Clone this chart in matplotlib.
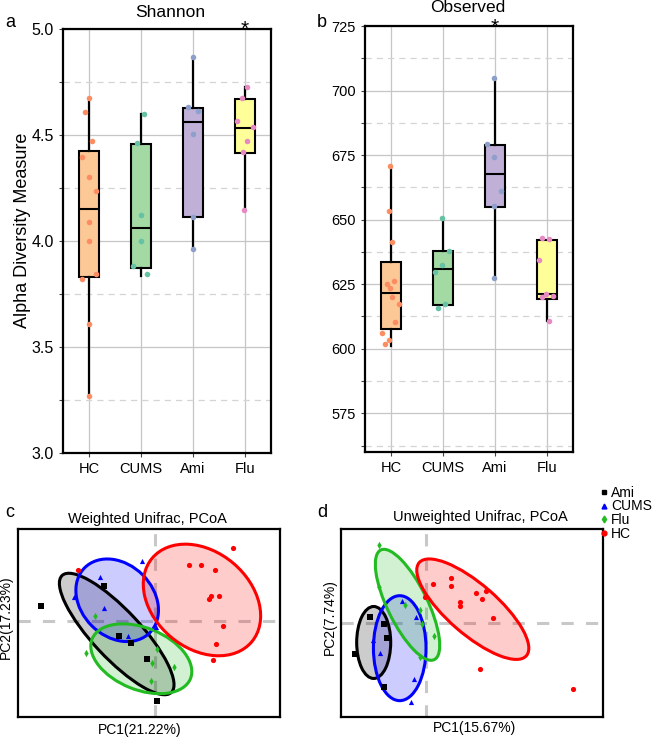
import matplotlib.pyplot as plt
from matplotlib.patches import Ellipse
from matplotlib.lines import Line2D
from matplotlib.ticker import MultipleLocator

plt.rcParams["font.family"] = ["Liberation Sans", "DejaVu Sans"]

# ---------------- data ----------------
groups = ["HC", "CUMS", "Ami", "Flu"]
box_fill = ["#fcc896", "#a3d9a3", "#c0b0d8", "#ffff99"]
point_col = ["#fc8d62", "#66c2a5", "#8da0cb", "#e78ac3"]

# Shannon index per sample, with horizontal jitter used in the original
shannon_hc = [4.673, 4.607, 4.472, 4.395, 4.302, 4.235, 4.090, 3.998, 3.845, 3.820, 3.608, 3.269]
shannon_cums = [4.598, 4.461, 4.123, 3.998, 3.880, 3.844]
shannon_ami = [4.870, 4.631, 4.615, 4.505, 4.115, 3.963]
shannon_flu = [4.725, 4.673, 4.566, 4.540, 4.471, 4.419, 4.148]
shannon_jit_hc = [0, -0.07, 0.065, -0.135, 0, 0.13, 0, 0, 0.14, -0.135, 0, 0]
shannon_jit_cums = [0.06, -0.08, 0, 0, -0.15, 0.12]
shannon_jit_ami = [0, -0.1, 0.1, 0, 0, 0]
shannon_jit_flu = [0.045, -0.05, -0.155, 0.155, 0.045, -0.045, -0.01]
# box summaries: lower whisker, lower hinge, median, upper hinge, upper whisker
shannon_box = [
    [3.269, 3.831, 4.153, 4.423, 4.673],
    [3.836, 3.872, 4.060, 4.458, 4.598],
    [3.963, 4.111, 4.560, 4.629, 4.870],
    [4.148, 4.416, 4.535, 4.670, 4.725],
]

# Observed OTUs per sample
observed_hc = [670.8, 653.4, 641.5, 626.3, 625.0, 623.5, 620.1, 617.2, 610.2, 606.0, 603.3, 602.0]
observed_cums = [650.5, 638.0, 632.4, 629.6, 617.2, 615.8]
observed_ami = [705.0, 679.2, 674.3, 661.1, 655.4, 627.5]
observed_flu = [643.0, 642.4, 634.5, 621.2, 620.6, 620.1, 610.8]
observed_jit_hc = [-0.01, -0.045, 0.02, 0.05, -0.08, -0.01, 0.02, 0.15, 0.085, -0.18, -0.045, -0.11]
observed_jit_cums = [-0.01, 0.115, -0.02, -0.155, 0.045, -0.09]
observed_jit_ami = [-0.01, -0.15, -0.01, 0.12, -0.01, -0.01]
observed_jit_flu = [-0.09, 0.045, -0.16, -0.02, 0.12, -0.09, 0.045]
observed_box = [
    [601.2, 607.7, 621.7, 633.5, 670.8],
    [616.8, 616.8, 630.8, 637.9, 650.5],
    [627.5, 655.0, 667.7, 678.8, 705.0],
    [610.8, 619.4, 621.1, 642.0, 642.0],
]

# PCoA coordinates (PC1, PC2)
pcoa_groups = ["Ami", "CUMS", "Flu", "HC"]
pcoa_colors = ["black", "#0000ff", "#22bb22", "#ff0000"]
pcoa_markers = ["s", "^", "d", "o"]

w_ami_x = [-0.19, -0.0845, -0.06, -0.0405, -0.013, 0.003]
w_ami_y = [0.0255, 0.059, -0.025, -0.037, -0.064, -0.133]
w_cums_x = [-0.022, -0.092, -0.1345, -0.0845, -0.0445, 0.001]
w_cums_y = [0.1, 0.074, 0.04, 0.021, -0.025, -0.01]
w_flu_x = [-0.1, -0.115, -0.0045, -0.007, 0.004, 0.0317]
w_flu_y = [0.009, -0.054, -0.0695, -0.1, -0.047, -0.0762]
w_hc_x = [-0.128, 0.1295, 0.057, 0.077, 0.1005, 0.093, 0.09, 0.107, 0.113, 0.102, 0.097]
w_hc_y = [0.085, 0.121, 0.093, 0.093, 0.0855, 0.041, 0.037, 0.042, -0.009, -0.039, -0.0645]
# ellipses: centre x, centre y, width, height, angle
w_ellipse = [
    [-0.0638, -0.0217, 0.2667, 0.080, -47],
    [-0.063, 0.0345, 0.1533, 0.120, -45],
    [-0.0228, -0.063, 0.1767, 0.1033, -22],
    [0.0783, 0.035, 0.2167, 0.161, -40],
]

u_ami_x = [-0.0925, -0.0695, -0.0645, -0.1182, -0.0687]
u_ami_y = [0.0108, -0.0012, -0.0245, -0.0517, -0.1065]
u_cums_x = [-0.039, -0.0162, -0.0873, -0.0762, -0.0192, -0.0245]
u_cums_y = [0.0372, 0.0097, -0.0278, -0.0503, -0.0932, -0.1307]
u_flu_x = [-0.0782, -0.0785, -0.0353, -0.0098, -0.0057, 0.0135, -0.01]
u_flu_y = [0.1298, 0.06, 0.0297, 0.0217, -0.0008, -0.0208, -0.0567]
u_hc_x = [0.0427, 0.0122, 0.0417, -0.0007, 0.0833, 0.101, 0.0943, 0.0567, 0.0567, 0.1127, 0.0905, 0.2455]
u_hc_y = [0.075, 0.0655, 0.0617, 0.0443, 0.05, 0.0543, 0.041, 0.035, 0.0283, 0.0088, -0.0762, -0.11]
u_ellipse = [
    [-0.0867, -0.032, 0.12, 0.0567, 90],
    [-0.0433, -0.0415, 0.175, 0.0877, 90],
    [-0.0303, 0.0308, 0.2033, 0.0667, -64],
    [0.0785, 0.0235, 0.2367, 0.0833, -41],
]

# ---------------- figure ----------------
fig = plt.figure(figsize=(6.52, 7.38), dpi=100)


def box_panel(ax, values, jitters, boxes, major, minor, ylim, ylabelsize):
    stats = []
    for b in boxes:
        stats.append(dict(whislo=b[0], q1=b[1], med=b[2], q3=b[3], whishi=b[4]))
    pos = [1, 2, 3, 4]
    bp = ax.bxp(stats, positions=pos, widths=0.4, patch_artist=True,
                showfliers=False, showcaps=False,
                boxprops=dict(linewidth=1.5, edgecolor="black"),
                medianprops=dict(color="black", linewidth=1.5),
                whiskerprops=dict(color="black", linewidth=1.6),
                zorder=2)
    for patch, c in zip(bp["boxes"], box_fill):
        patch.set_facecolor(c)
    for i, (vals, jit) in enumerate(zip(values, jitters)):
        xs = [pos[i] + j for j in jit]
        ax.scatter(xs, vals, s=16, color=point_col[i], linewidths=0, zorder=4)
    ax.set_xlim(0.5, 4.5)
    ax.set_ylim(*ylim)
    ax.set_xticks(pos)
    ax.set_xticklabels(groups)
    ax.yaxis.set_major_locator(MultipleLocator(major))
    ax.yaxis.set_minor_locator(MultipleLocator(minor))
    ax.set_axisbelow(True)
    ax.grid(axis="y", which="major", color="#c6c6c6", linewidth=0.9)
    ax.grid(axis="y", which="minor", color="#d4d4d4", linewidth=0.9, linestyle=(0, (5, 4)))
    ax.grid(axis="x", which="major", color="#c6c6c6", linewidth=0.9)
    ax.tick_params(axis="y", which="both", length=3, width=0.8, color="#444444", labelsize=ylabelsize)
    ax.tick_params(axis="x", length=3, width=0.8, color="#444444", labelsize=10.5)
    for s in ax.spines.values():
        s.set_linewidth(1.6)


ax_a = fig.add_axes([0.0966, 0.3862, 0.319, 0.5745])
box_panel(ax_a, [shannon_hc, shannon_cums, shannon_ami, shannon_flu],
          [shannon_jit_hc, shannon_jit_cums, shannon_jit_ami, shannon_jit_flu],
          shannon_box, 0.5, 0.25, (3.0, 5.0), 11.5)
ax_a.set_yticks([3.0, 3.5, 4.0, 4.5, 5.0])
ax_a.set_ylabel("Alpha Diversity Measure", fontsize=13)
ax_a.yaxis.set_label_coords(-0.156, 0.525)
ax_a.annotate("*", xy=(4, 1.0), xycoords=("data", "axes fraction"), xytext=(0, -7),
              textcoords="offset points", ha="center", va="bottom", fontsize=15)

ax_b = fig.add_axes([0.5598, 0.3875, 0.319, 0.5772])
box_panel(ax_b, [observed_hc, observed_cums, observed_ami, observed_flu],
          [observed_jit_hc, observed_jit_cums, observed_jit_ami, observed_jit_flu],
          observed_box, 25, 12.5, (560, 725), 10.5)
ax_b.set_yticks([575, 600, 625, 650, 675, 700, 725])
ax_b.annotate("*", xy=(3, 1.0), xycoords=("data", "axes fraction"), xytext=(0, -8),
              textcoords="offset points", ha="center", va="bottom", fontsize=15)

fig.text(0.2607, 0.9837, "Shannon", ha="center", va="center", fontsize=12.5)
fig.text(0.7178, 0.9905, "Observed", ha="center", va="center", fontsize=12.5)


def pcoa_panel(ax, xs, ys, ellipses, xlim, ylim):
    ax.axhline(0, color="#c8c8c8", linewidth=2.2, linestyle=(0, (4, 4)), zorder=0)
    ax.axvline(0, color="#c8c8c8", linewidth=2.2, linestyle=(0, (4, 4)), zorder=0)
    for e, c in zip(ellipses, pcoa_colors):
        ax.add_patch(Ellipse((e[0], e[1]), e[2], e[3], angle=e[4], facecolor=c,
                             alpha=0.2, edgecolor="none", zorder=1))
        ax.add_patch(Ellipse((e[0], e[1]), e[2], e[3], angle=e[4], facecolor="none",
                             edgecolor=c, linewidth=2.2, zorder=2))
    for x, y, c, m in zip(xs, ys, pcoa_colors, pcoa_markers):
        ax.scatter(x, y, s=14, color=c, marker=m, linewidths=0, zorder=3)
    ax.set_xlim(*xlim)
    ax.set_ylim(*ylim)
    ax.set_xticks([])
    ax.set_yticks([])
    for s in ax.spines.values():
        s.set_linewidth(1.6)


ax_c = fig.add_axes([0.0276, 0.0285, 0.4018, 0.2547])
pcoa_panel(ax_c, [w_ami_x, w_cums_x, w_flu_x, w_hc_x], [w_ami_y, w_cums_y, w_flu_y, w_hc_y],
           w_ellipse, (-0.2283, 0.2083), (-0.16, 0.1533))

ax_d = fig.add_axes([0.523, 0.0285, 0.4018, 0.2547])
pcoa_panel(ax_d, [u_ami_x, u_cums_x, u_flu_x, u_hc_x], [u_ami_y, u_cums_y, u_flu_y, u_hc_y],
           u_ellipse, (-0.1412, 0.2955), (-0.1562, 0.1572))

fig.text(0.226, 0.2963, "Weighted Unifrac, PCoA", ha="center", va="center", fontsize=10.5)
fig.text(0.737, 0.300, "Unweighted Unifrac, PCoA", ha="center", va="center", fontsize=10.5)
fig.text(0.2147, 0.0108, "PC1(21.22%)", ha="center", va="center", fontsize=10)
fig.text(0.7285, 0.0136, "PC1(15.67%)", ha="center", va="center", fontsize=10)
fig.text(0.009, 0.1633, "PC2(17.23%)", ha="center", va="center", rotation=90, fontsize=10)
fig.text(0.506, 0.1644, "PC2(7.74%)", ha="center", va="center", rotation=90, fontsize=10)

handles = [Line2D([], [], linestyle="none", marker=m, color=c, markersize=3.5)
           for c, m in zip(pcoa_colors, pcoa_markers)]
fig.legend(handles, pcoa_groups, loc="upper left", bbox_to_anchor=(0.92, 0.3416),
           frameon=False, fontsize=10, handlelength=0.6, handletextpad=0.2,
           labelspacing=-0.03, borderpad=0, borderaxespad=0)

for lbl, x, y in [("a", 0.0077, 0.969), ("b", 0.486, 0.970), ("c", 0.0077, 0.305), ("d", 0.486, 0.305)]:
    fig.text(x, y, lbl, ha="left", va="center", fontsize=13)

fig.savefig("out.png", dpi=100)
